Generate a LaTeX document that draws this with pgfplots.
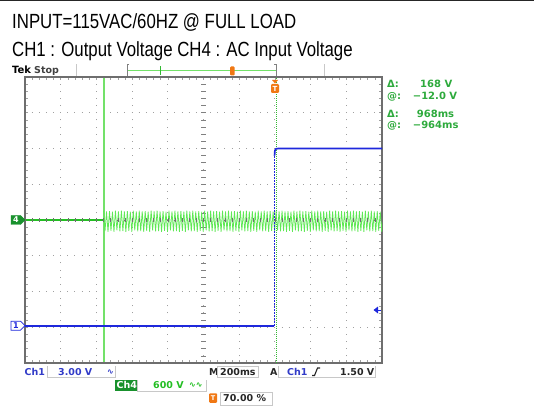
\documentclass[border=0pt]{standalone}
\usepackage{pgfplots}
\pgfplotsset{compat=1.18}
\usepackage{fontspec}
\setmainfont{Liberation Sans}
\newfontfamily\titlefont[FakeStretch=0.82]{Liberation Sans}
\newfontfamily\tekfont{DejaVu Sans}
\definecolor{bluet}{RGB}{30,40,220}
\definecolor{bluetxt}{RGB}{50,60,200}
\definecolor{greenflat}{RGB}{35,190,35}
\definecolor{greenband}{RGB}{95,232,85}
\definecolor{cursorA}{RGB}{115,225,105}
\definecolor{cursorB}{RGB}{50,185,50}
\definecolor{meas}{RGB}{45,170,60}
\definecolor{tekorange}{RGB}{240,120,20}
\definecolor{gridc}{RGB}{160,160,160}
\definecolor{framec}{RGB}{110,110,110}
\definecolor{boxc}{RGB}{200,200,200}
\definecolor{mark4}{RGB}{25,145,45}
\begin{document}
\begin{tikzpicture}
\begin{scope}[x=1pt,y=1pt]
\path[use as bounding box] (0,0) rectangle (534,412);
\fill[black!85] (0,410.6) rectangle (534,412);
% titles
\node[anchor=base west,inner sep=0,font={\titlefont\fontsize{20.5}{24}\selectfont}] at (12,383.7) {INPUT=115VAC/60HZ @ FULL LOAD};
\node[anchor=base west,inner sep=0,font={\titlefont\fontsize{20.5}{24}\selectfont}] at (12,355.3) {CH1 : Output Voltage CH4 : AC Input Voltage};
% Tek header
\node[anchor=base west,inner sep=0,font={\tekfont\bfseries\fontsize{10}{12}\selectfont}] at (12,338) {Tek};
\node[anchor=base west,inner sep=0,font={\tekfont\bfseries\fontsize{9.5}{12}\selectfont},text=black!75] at (34,338) {Stop};
\draw[boxc,line width=0.8pt] (76,336) -- (76,348);
\draw[boxc,line width=0.8pt] (324,336) -- (324,348);
\draw[cursorA,line width=1pt] (127,341) -- (276,341);
\draw[gray,line width=0.7pt] (129,348) -- (127,348) -- (127,336) -- (129,336);
\draw[gray,line width=0.7pt] (274,348) -- (276,348) -- (276,336) -- (274,336);
\draw[cursorB,line width=0.8pt] (160,337) -- (160,346);
\fill[tekorange,rounded corners=1pt] (230,336.5) rectangle (234.5,345.5);
% grid
\foreach \i in {1,2,3,4,6,7,8,9}
  \draw[gridc,line width=1pt,dash pattern=on 1pt off 6.15pt,dash phase=0.5pt] ({25+35.7*\i},49) -- ({25+35.7*\i},335);
\foreach \k in {1,2,3,5,6,7}
  \draw[gridc,line width=1pt,dash pattern=on 1pt off 6.14pt,dash phase=0.5pt] (25,{49+35.75*\k}) -- (382,{49+35.75*\k});
\draw[gridc,line width=1pt,dash pattern=on 1pt off 6.15pt,dash phase=0.5pt] (203.5,49) -- (203.5,335);
\foreach \j in {0,...,40}
  \draw[gridc!80!black,line width=0.6pt] (201.3,{49+7.15*\j}) -- (205.7,{49+7.15*\j});
\foreach \j in {0,...,50} {
  \draw[gridc,line width=0.6pt] ({25+7.14*\j},335) -- ({25+7.14*\j},332);
  \draw[gridc,line width=0.6pt] ({25+7.14*\j},49) -- ({25+7.14*\j},52);
}
\foreach \j in {0,...,40} {
  \draw[gridc,line width=0.6pt] (25,{49+7.15*\j}) -- (28,{49+7.15*\j});
  \draw[gridc,line width=0.6pt] (382,{49+7.15*\j}) -- (379,{49+7.15*\j});
}
% cursor 1 (solid)
\fill[cursorA] (102.6,49.7) rectangle (104.6,334.3);
\end{scope}
\begin{axis}[at={(25pt,49pt)},anchor=south west,scale only axis,width=357pt,height=286pt,
  xmin=0,xmax=10,ymin=-4,ymax=4,xtick=\empty,ytick=\empty,
  axis line style={draw=framec,line width=1.5pt},clip=true]
% cursor 2
\addplot[draw=cursorB,line width=1pt,densely dotted] coordinates {(7.04,-4) (7.04,4)};
% CH4 AC input
\addplot[greenflat,line width=1.6pt] coordinates {(0,0) (2.2,0)};
\addplot[greenband,line width=0.75pt] coordinates {
(2.200,0.26) (2.242,-0.31) (2.283,0.24) (2.325,-0.33) (2.367,0.25) (2.408,-0.30)
(2.450,0.23) (2.492,-0.33) (2.533,0.26) (2.575,-0.29) (2.617,0.24) (2.658,-0.32)
(2.700,0.26) (2.742,-0.31) (2.783,0.24) (2.825,-0.33) (2.867,0.25) (2.908,-0.30)
(2.950,0.23) (2.992,-0.33) (3.033,0.26) (3.075,-0.29) (3.117,0.24) (3.158,-0.32)
(3.200,0.26) (3.242,-0.31) (3.283,0.24) (3.325,-0.33) (3.367,0.25) (3.408,-0.30)
(3.450,0.23) (3.492,-0.33) (3.533,0.26) (3.575,-0.29) (3.617,0.24) (3.658,-0.32)
(3.700,0.26) (3.742,-0.31) (3.783,0.24) (3.825,-0.33) (3.867,0.25) (3.908,-0.30)
(3.950,0.23) (3.992,-0.33) (4.033,0.26) (4.075,-0.29) (4.117,0.24) (4.158,-0.32)
(4.200,0.26) (4.242,-0.31) (4.283,0.24) (4.325,-0.33) (4.367,0.25) (4.408,-0.30)
(4.450,0.23) (4.492,-0.33) (4.533,0.26) (4.575,-0.29) (4.617,0.24) (4.658,-0.32)
(4.700,0.26) (4.742,-0.31) (4.783,0.24) (4.825,-0.33) (4.867,0.25) (4.908,-0.30)
(4.950,0.23) (4.992,-0.33) (5.033,0.26) (5.075,-0.29) (5.117,0.24) (5.158,-0.32)
(5.200,0.26) (5.242,-0.31) (5.283,0.24) (5.325,-0.33) (5.367,0.25) (5.408,-0.30)
(5.450,0.23) (5.492,-0.33) (5.533,0.26) (5.575,-0.29) (5.617,0.24) (5.658,-0.32)
(5.700,0.26) (5.742,-0.31) (5.783,0.24) (5.825,-0.33) (5.867,0.25) (5.908,-0.30)
(5.950,0.23) (5.992,-0.33) (6.033,0.26) (6.075,-0.29) (6.117,0.24) (6.158,-0.32)
(6.200,0.26) (6.242,-0.31) (6.283,0.24) (6.325,-0.33) (6.367,0.25) (6.408,-0.30)
(6.450,0.23) (6.492,-0.33) (6.533,0.26) (6.575,-0.29) (6.617,0.24) (6.658,-0.32)
(6.700,0.26) (6.742,-0.31) (6.783,0.24) (6.825,-0.33) (6.867,0.25) (6.908,-0.30)
(6.950,0.23) (6.992,-0.33) (7.033,0.26) (7.075,-0.29) (7.117,0.24) (7.158,-0.32)
(7.200,0.26) (7.242,-0.31) (7.283,0.24) (7.325,-0.33) (7.367,0.25) (7.408,-0.30)
(7.450,0.23) (7.492,-0.33) (7.533,0.26) (7.575,-0.29) (7.617,0.24) (7.658,-0.32)
(7.700,0.26) (7.742,-0.31) (7.783,0.24) (7.825,-0.33) (7.867,0.25) (7.908,-0.30)
(7.950,0.23) (7.992,-0.33) (8.033,0.26) (8.075,-0.29) (8.117,0.24) (8.158,-0.32)
(8.200,0.26) (8.242,-0.31) (8.283,0.24) (8.325,-0.33) (8.367,0.25) (8.408,-0.30)
(8.450,0.23) (8.492,-0.33) (8.533,0.26) (8.575,-0.29) (8.617,0.24) (8.658,-0.32)
(8.700,0.26) (8.742,-0.31) (8.783,0.24) (8.825,-0.33) (8.867,0.25) (8.908,-0.30)
(8.950,0.23) (8.992,-0.33) (9.033,0.26) (9.075,-0.29) (9.117,0.24) (9.158,-0.32)
(9.200,0.26) (9.242,-0.31) (9.283,0.24) (9.325,-0.33) (9.367,0.25) (9.408,-0.30)
(9.450,0.23) (9.492,-0.33) (9.533,0.26) (9.575,-0.29) (9.617,0.24) (9.658,-0.32)
(9.700,0.26) (9.742,-0.31) (9.783,0.24) (9.825,-0.33) (9.867,0.25) (9.908,-0.30)
(9.950,0.23) (9.992,-0.33) (10.033,0.26) (10.075,-0.29) (10.117,0.24) (10.158,-0.32)
};
% CH1 output voltage
\addplot[bluet,line width=1.7pt] coordinates {(0,-2.96) (6.98,-2.96)};
\addplot[bluet,line width=0.5pt,densely dotted] coordinates {(6.99,-2.96) (6.99,1.85)};
\addplot[bluet,line width=1.7pt] coordinates {(6.99,1.8) (7.0,1.94) (7.03,1.99) (7.1,2.0) (10,2.0)};
\end{axis}
\begin{scope}[x=1pt,y=1pt]
% center horizontal ticks over traces
\draw[gridc!70!black,line width=0.6pt,dash pattern=on 1pt off 6.14pt,dash phase=0.5pt] (25,192) -- (382,192);
\foreach \j in {0,...,50}
  \draw[gridc!70!black,line width=0.6pt] ({25+7.14*\j},190) -- ({25+7.14*\j},194);
% trigger marker top
\fill[tekorange] (272,332) -- (278,332) -- (275,328.5) -- cycle;
\node[fill=tekorange,rounded corners=1.2pt,inner sep=0,minimum width=8pt,minimum height=9pt,text=white,font={\tekfont\bfseries\fontsize{7}{8}\selectfont}] at (275,323.5) {T};
% left markers
\filldraw[fill=mark4,draw=mark4] (11,187.5) -- (20.5,187.5) -- (25,192) -- (20.5,196.5) -- (11,196.5) -- cycle;
\node[text=white,inner sep=0,font={\tekfont\bfseries\fontsize{8}{9}\selectfont}] at (16,192) {4};
\filldraw[fill=white,draw=bluet,line width=0.7pt] (11,81.8) -- (20.5,81.8) -- (25,86.3) -- (20.5,90.8) -- (11,90.8) -- cycle;
\node[text=bluet,inner sep=0,font={\tekfont\bfseries\fontsize{8}{9}\selectfont}] at (16,86.3) {1};
% trigger level arrow
\fill[bluet] (373.5,102) -- (378,105.5) -- (378,98.5) -- cycle;
\draw[bluet,line width=1pt] (377,102) -- (381,102);
% measurement readouts
\begin{scope}[every node/.style={anchor=base west,inner sep=0,text=meas,font={\tekfont\bfseries\fontsize{10}{12}\selectfont}}]
\node at (387,324) {Δ:};
\node at (420,324) {168 V};
\node at (387,312.7) {@:};
\node at (412.7,312.7) {−12.0 V};
\node at (387,294.7) {Δ:};
\node at (416.7,294.7) {968ms};
\node at (387,283.7) {@:};
\node at (412.7,283.7) {−964ms};
\end{scope}
% bottom readouts
\begin{scope}[every node/.style={anchor=base west,inner sep=0,font={\tekfont\bfseries\fontsize{9.5}{11}\selectfont}}]
\node[text=bluetxt] at (24.5,37) {Ch1};
\draw[boxc,line width=0.8pt] (47,46) -- (47,34.5) -- (115,34.5) -- (115,46);
\node[text=bluetxt] at (58,37) {3.00 V};
\node[text=bluetxt,font={\tekfont\bfseries\fontsize{8}{9}\selectfont}] at (107,38) {∿};
\node[text=black!85] at (209,37) {M};
\draw[boxc,line width=0.8pt] (217,34.5) rectangle (258.5,46);
\node[text=black!85] at (220,37) {200ms};
\node[text=black!85] at (270,37) {A};
\draw[boxc,line width=0.8pt] (278,46) -- (278,34.5) -- (375,34.5) -- (375,46);
\node[text=bluetxt] at (287,37) {Ch1};
\draw[black!85,line width=1.1pt] (312,36.5) -- (314.5,36.5) -- (317.5,44) -- (320,44);
\node[text=black!85] at (340,37) {1.50 V};
\fill[mark4] (115,21) rectangle (137,32);
\node[text=white] at (116.5,23.3) {Ch4};
\draw[boxc,line width=0.8pt] (137,32) -- (137,21) -- (206,21) -- (206,32);
\node[text=greenflat] at (153,23.3) {600 V};
\node[text=greenflat,font={\tekfont\bfseries\fontsize{8}{9}\selectfont}] at (189,24.5) {∿∿};
\node[fill=tekorange,rounded corners=1pt,inner sep=0,minimum width=8pt,minimum height=9.5pt,anchor=center,text=white,font={\tekfont\bfseries\fontsize{6.5}{7}\selectfont}] at (213,14) {T};
\draw[boxc,line width=0.8pt] (220,7) rectangle (272,20);
\node[text=black!85] at (223,10.3) {70.00 \%};
\end{scope}
\end{scope}
\end{tikzpicture}
\end{document}
